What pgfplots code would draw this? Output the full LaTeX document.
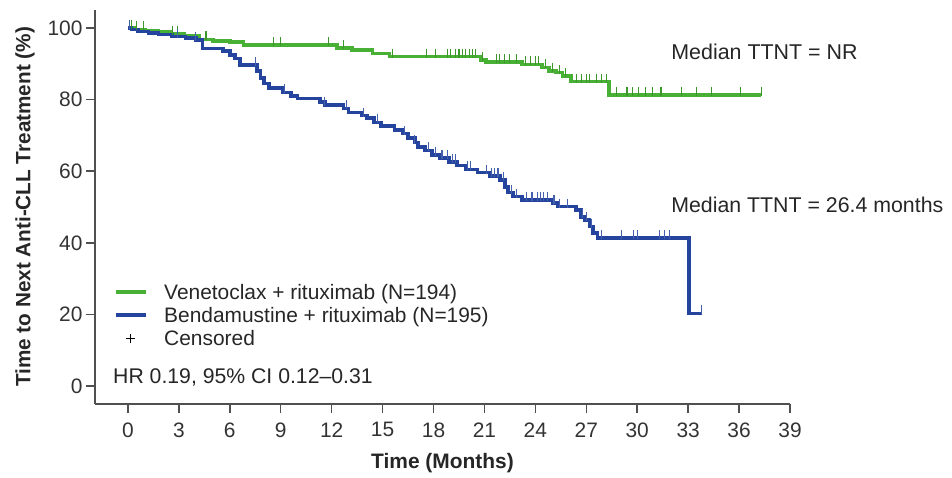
\documentclass[border=0pt]{standalone}
\usepackage{pgfplots}
\pgfplotsset{compat=1.18}
\usepackage{pgfplotstable}
\usepackage{fontspec}
\setmainfont{Liberation Sans}
\definecolor{vgreen}{RGB}{72,176,52}
\definecolor{bblue}{RGB}{36,68,158}
\definecolor{axgray}{RGB}{80,80,80}

\pgfplotstableread{
t S
0 100
0.4 99.6
1.0 99.2
1.8 98.8
2.5 98.4
3.3 97.9
4.2 96.8
5.0 96.4
6.0 96.0
6.8 95.3
12.3 94.4
13.2 93.8
14.4 92.9
15.4 92.0
20.8 91.0
21.1 90.4
23.2 89.8
24.4 89.0
24.8 88.0
25.2 87.5
25.6 86.5
26.1 85.0
28.35 81.3
37.3 81.3
}\greensteps

\pgfplotstableread{
t S
0.2 100
0.5 99.6
0.9 99.6
2.6 98.4
2.9 98.4
4.6 96.8
8.6 95.3
9.0 95.3
11.8 95.3
12.7 94.4
15.6 92.0
17.6 92.0
18.1 92.0
18.8 92.0
19.0 92.0
19.3 92.0
19.5 92.0
19.7 92.0
19.9 92.0
20.1 92.0
20.3 92.0
20.5 92.0
20.9 91.0
21.7 90.4
21.9 90.4
22.2 90.4
22.5 90.4
22.9 90.4
23.4 89.8
23.7 89.8
24.0 89.8
24.2 89.8
24.6 89.0
25.0 88.0
25.4 87.5
25.8 86.5
26.4 85.0
26.7 85.0
27.0 85.0
27.2 85.0
27.6 85.0
27.9 85.0
28.2 85.0
28.8 81.3
29.4 81.3
29.7 81.3
30.1 81.3
30.5 81.3
30.9 81.3
31.4 81.3
32.6 81.3
33.5 81.3
34.4 81.3
36.1 81.3
37.3 81.3
}\greencens

\pgfplotstableread{
t S
0 100
0.2 99.5
0.6 99.0
1.2 98.6
1.8 98.2
2.6 97.6
3.4 97.1
4.0 96.6
4.4 94.3
5.6 93.6
6.0 92.5
6.3 91.5
6.6 89.7
7.6 88.0
7.8 86.0
8.0 84.5
8.3 83.3
9.1 82.0
9.6 81.0
10.0 80.3
11.3 79.3
11.6 78.5
12.7 77.5
13.0 76.4
13.8 75.5
14.1 74.8
14.5 73.6
14.9 72.6
15.7 71.5
16.2 70.5
16.5 69.2
16.9 68.0
17.1 66.8
17.5 65.8
17.9 64.6
18.4 63.6
18.9 62.6
19.4 61.6
19.9 60.5
20.6 59.6
21.3 58.6
21.9 57.5
22.2 55.5
22.4 54.0
22.7 52.9
23.2 52.0
25.0 51.1
25.3 50.1
26.4 49.2
26.7 47.2
26.9 46.3
27.2 44.5
27.4 42.7
27.65 41.3
33.06 20.3
33.8 20.3
}\bluesteps

\pgfplotstableread{
t S
0.1 100
2.9 97.6
4.0 96.6
7.5 89.7
9.2 82.0
11.6 78.5
12.9 77.5
13.9 75.5
14.7 73.6
16.3 70.5
16.9 68.0
17.7 65.8
18.1 64.6
18.5 63.6
18.8 63.6
19.1 62.6
19.3 62.6
20.0 60.5
20.2 60.5
21.1 59.6
21.4 58.6
21.6 58.6
21.8 58.6
22.1 57.5
22.6 54.0
22.9 52.9
23.5 52.0
23.8 52.0
24.1 52.0
24.3 52.0
24.5 52.0
24.7 52.0
25.1 51.1
25.4 50.1
25.9 50.1
26.8 47.2
27.0 46.3
27.3 44.5
27.9 41.3
29.1 41.3
29.8 41.3
30.0 41.3
31.3 41.3
31.6 41.3
31.9 41.3
33.8 20.3
}\bluecens

\begin{document}
\begin{tikzpicture}
\path[use as bounding box] (-95bp,-74bp) rectangle (857bp,404bp);
\begin{axis}[
  at={(0,0)}, anchor=south west,
  scale only axis,
  width=695bp, height=394bp,
  xmin=-1.94, xmax=39,
  ymin=-5, ymax=105,
  axis lines*=left,
  axis line style={-, line width=1.7bp, draw=axgray},
  xtick={0,3,...,39},
  ytick={0,20,...,100},
  tick align=outside,
  major tick length=9bp,
  tick style={line width=1.5bp, draw=axgray},
  /pgf/number format/assume math mode=true,
  ticklabel style={font=\fontsize{21}{24}\selectfont, text=black!80},
  xticklabel style={yshift=-6bp},
  xlabel={\textbf{Time (Months)}},
  ylabel={\textbf{Time to Next Anti-CLL Treatment (\%)}},
  every axis x label/.style={at={(axis description cs:0.5,-0.1497)}, anchor=center, font=\fontsize{21}{24}\selectfont, text=black!85},
  every axis y label/.style={at={(axis description cs:-0.1007,0.5)}, rotate=90, anchor=center, font=\fontsize{20.8}{24}\selectfont, text=black!85},
  clip=false,
  legend cell align=left,
  legend style={at={(axis cs:-0.85,29.0)}, anchor=north west, draw=none, fill=none,
    inner sep=0pt, row sep=3.5bp, column sep=15bp, font=\fontsize{21}{24}\selectfont, text=black!85,
    nodes={inner sep=1.5bp}},
  legend image code/.code={\draw[#1, line width=4bp] (0bp,0bp) -- (30bp,0bp);},
]
\addplot[const plot, color=vgreen, line width=3.6bp] table[x=t,y=S] {\greensteps};
\addlegendentry{Venetoclax + rituximab (N=194)}
\addplot[const plot, color=bblue, line width=3.6bp] table[x=t,y=S] {\bluesteps};
\addlegendentry{Bendamustine + rituximab (N=195)}
\addlegendimage{legend image code/.code={\draw[black, line width=1.3bp] (15bp,-4.5bp)--(15bp,4.5bp) (10.5bp,0bp)--(19.5bp,0bp);}}
\addlegendentry{Censored}
\addplot[forget plot, only marks, mark=|, color=vgreen!85!black, mark size=4.5bp,
  mark options={line width=1.1bp, yshift=3.5bp}] table[x=t,y=S] {\greencens};
\addplot[forget plot, only marks, mark=|, color=bblue!85!white, mark size=4.5bp,
  mark options={line width=1.1bp, yshift=3.5bp}] table[x=t,y=S] {\bluecens};
\node[anchor=base west, font=\fontsize{21.3}{25}\selectfont, text=black!85, inner sep=0pt] at (axis cs:-0.88,0.84) {HR 0.19, 95\% CI 0.12–0.31};
\node[anchor=base west, font=\fontsize{21.5}{25}\selectfont, text=black!85, inner sep=0pt] at (axis cs:32.0,91.1) {Median TTNT = NR};
\node[anchor=base west, font=\fontsize{21.4}{25}\selectfont, text=black!85, inner sep=0pt] at (axis cs:32.0,48.6) {Median TTNT = 26.4 months};
\end{axis}
\end{tikzpicture}
\end{document}
